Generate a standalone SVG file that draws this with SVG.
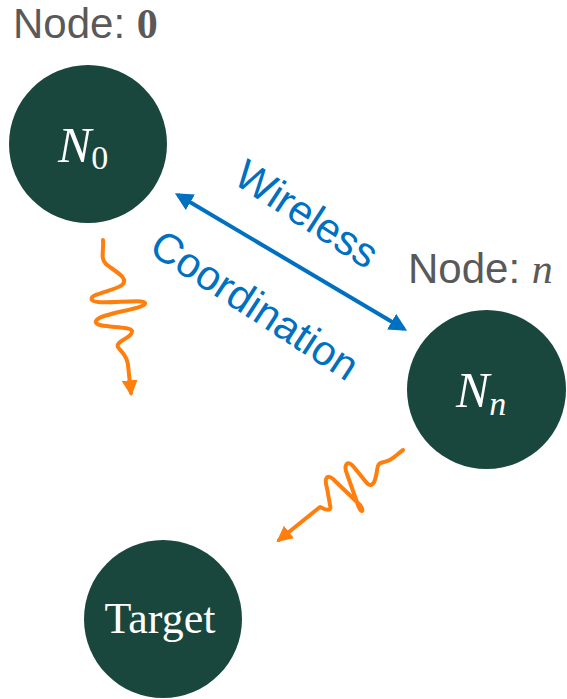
<svg xmlns="http://www.w3.org/2000/svg" width="567" height="699" viewBox="0 0 567 699">
<style>
.node{fill:#19473D}
.lbl{font-family:"Liberation Serif","DejaVu Serif",serif;fill:#FFFFFF}
.cap{font-family:"Liberation Sans",Arial,sans-serif;font-size:42px;fill:#595959}
.math{font-family:"Liberation Serif","DejaVu Serif",serif}
.blue{font-family:"Liberation Sans",Arial,sans-serif;font-size:42px;fill:#0070C0}
.wave{fill:none;stroke:#FF7F0E;stroke-width:4;stroke-linecap:round;stroke-linejoin:round}
</style>
<defs>
<marker id="bh" viewBox="0 0 10 10" refX="8" refY="5" markerWidth="4.5" markerHeight="4.5" orient="auto-start-reverse" markerUnits="strokeWidth"><path d="M0,0 L10,5 L0,10 z" fill="#0070C0"/></marker>
<marker id="oh" viewBox="0 0 10 10" refX="8" refY="5" markerWidth="4" markerHeight="4" orient="auto" markerUnits="strokeWidth"><path d="M0,0 L10,5 L0,10 z" fill="#FF7F0E"/></marker>
</defs>
<g id="node-n0">
<text class="cap" x="13" y="38">Node: <tspan class="math" font-weight="bold">0</tspan></text>
<circle class="node" cx="88" cy="144" r="79"/>
<text class="lbl" x="58" y="162" font-size="50"><tspan font-style="italic">N</tspan><tspan font-size="34" dy="7">0</tspan></text>
</g>
<g id="node-nn">
<text class="cap" x="408" y="283">Node: <tspan class="math" font-style="italic">n</tspan></text>
<circle class="node" cx="486.5" cy="389.5" r="79.5"/>
<text class="lbl" x="456" y="407" font-size="50" font-style="italic">N<tspan font-size="34" dy="8">n</tspan></text>
</g>
<g id="node-target">
<circle class="node" cx="163" cy="619" r="79"/>
<text class="lbl" x="160" y="633" font-size="44" text-anchor="middle">Target</text>
</g>
<g id="connectors">
<line x1="178" y1="195" x2="404" y2="329" stroke="#0070C0" stroke-width="4" marker-start="url(#bh)" marker-end="url(#bh)"/>
<text class="blue" text-anchor="middle" transform="translate(299,226) rotate(33)">Wireless</text>
<text class="blue" text-anchor="middle" transform="translate(247,317) rotate(33)">Coordination</text>
<path class="wave" marker-end="url(#oh)" d="M103,240 C104,252 100,258 106,264 C114,271 130,278 122,285 C114,291 88,294 92,300 C96,306 143,298 145,303 C147,309 99,313 96,321 C93,329 131,325 132,331 C133,338 115,341 118,347 C121,352 127,355 128,365 L131,393"/>
<path class="wave" marker-end="url(#oh)" d="M403,450 C396,455 392,461 384,462 C376,463 378,468 376,476 C374,486 370,487 366,482 L353,466 C348,460 343,464 347,474 L358,505 C361,514 365,512 360,505 L333,479 C327,474 324,478 327,488 L330,505 C332,512 326,510 320,507 L279,540"/>
</g>
</svg>
